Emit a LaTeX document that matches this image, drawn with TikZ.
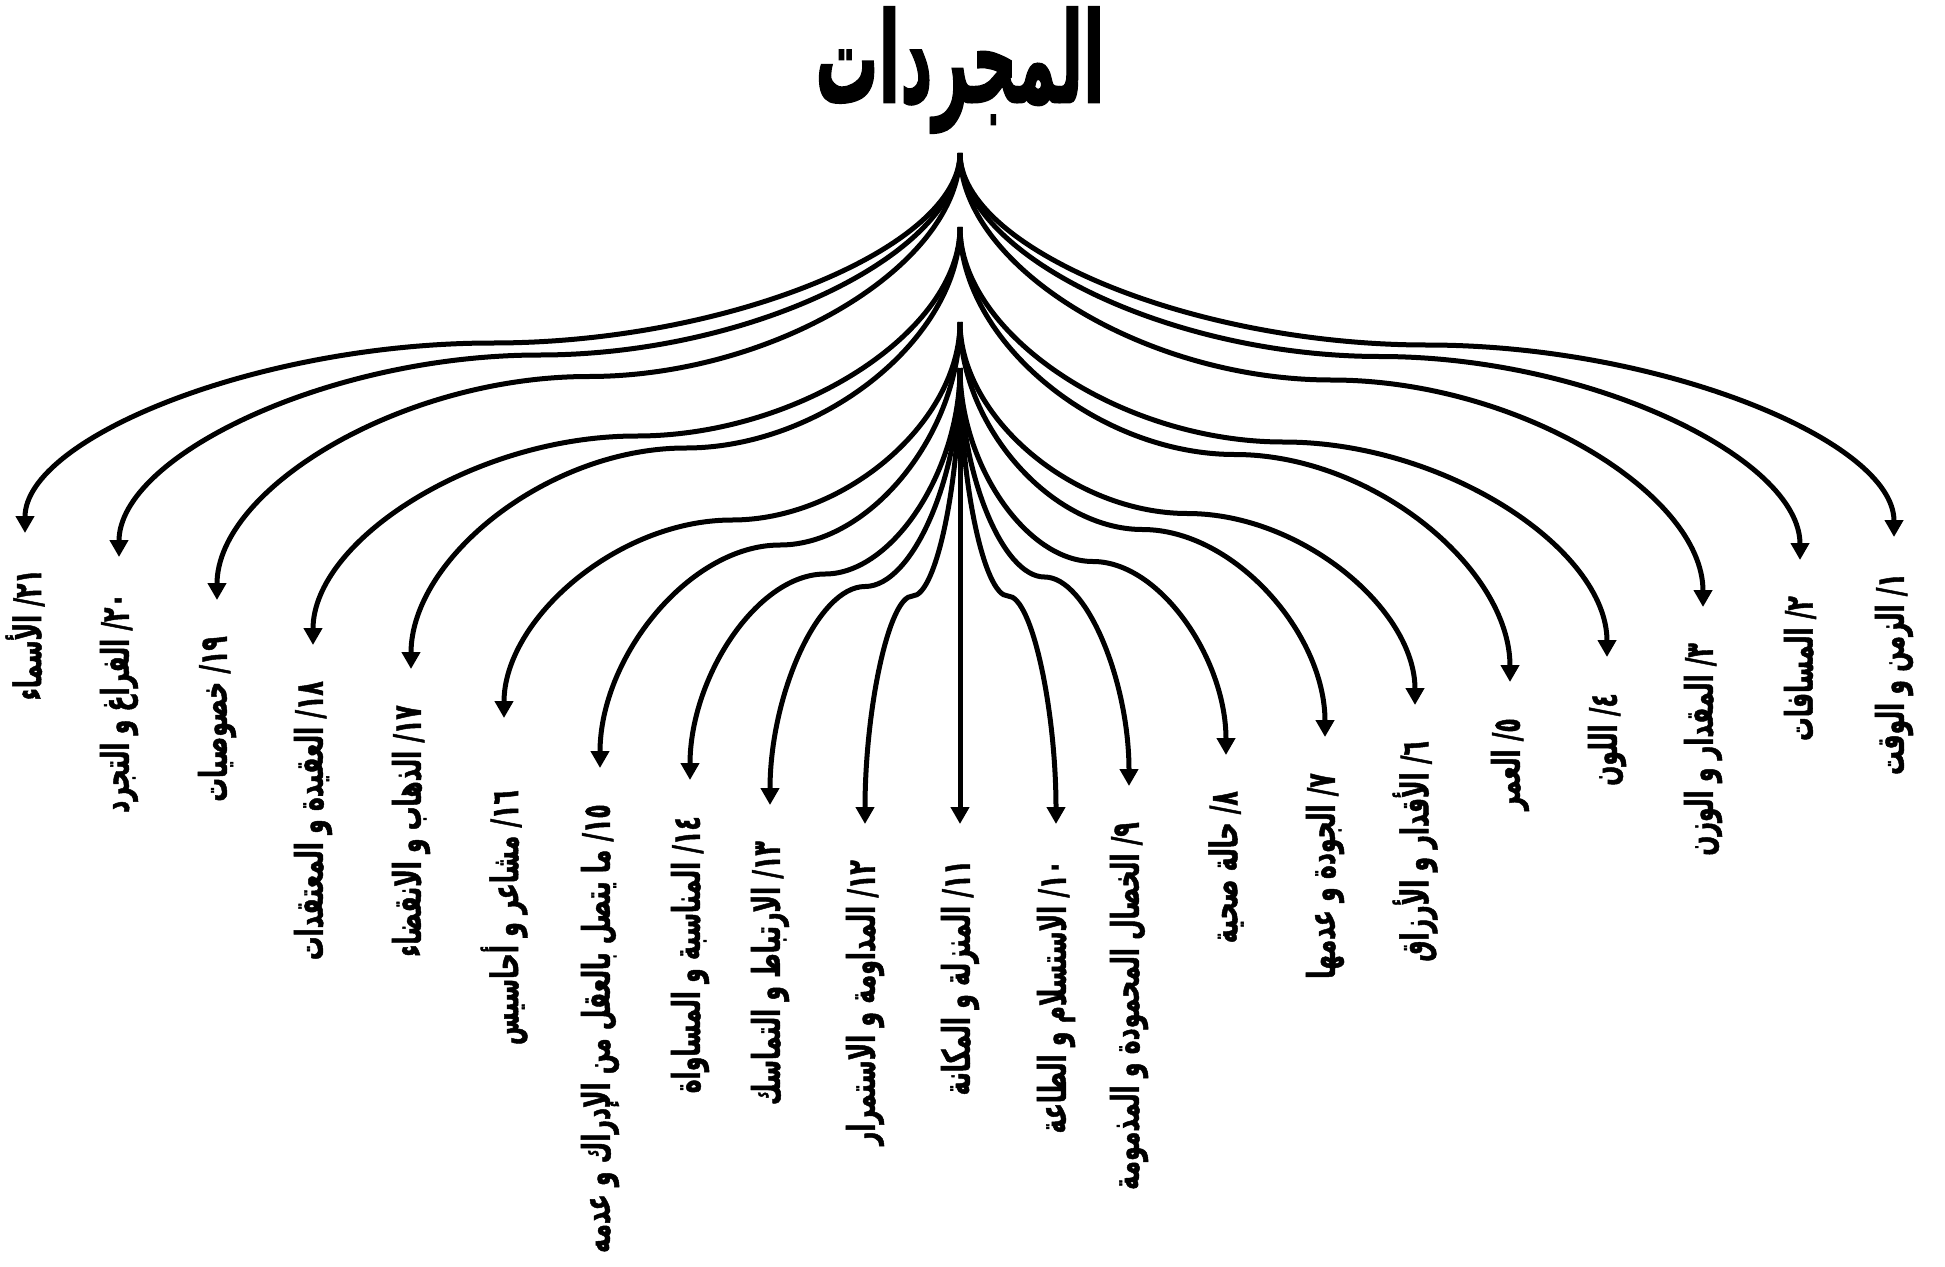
\documentclass[tikz,border=0pt]{standalone}
\usepackage{fontspec}
\usetikzlibrary{arrows.meta}
\TeXXeTstate=1
\newfontfamily\arabicfont[Script=Arabic,FakeBold=1.5]{DejaVu Sans}
\newfontfamily\lblfont[Script=Arabic,FakeStretch=0.62,FakeBold=1.2]{DejaVu Sans}
\begin{document}
\begin{tikzpicture}[x=1pt,y=1pt,
  conn/.style={line width=5pt,-{Triangle[length=17pt,width=18pt]}},
  lbl/.style={rotate=90,inner sep=0pt,anchor=east,font=\lblfont\bfseries\fontsize{38}{44}\selectfont},
  ttl/.style={inner sep=0pt,font=\arabicfont\bfseries\fontsize{90}{100}\selectfont}]
\useasboundingbox (0,0) rectangle (1945,-1266);
\node[ttl] (title) at (960,-70) {\scalebox{0.7}[1.4]{\beginR المجردات\endR}};
\coordinate (o153) at (960,-153);
\coordinate (o227) at (960,-227);
\coordinate (o322) at (960,-322);
\coordinate (o368) at (960,-368);
\foreach \i/\xt/\yt/\yo/\g/\d/\txt in {
  1/1894/537/153/36/١/{الزمن و الوقت},
  2/1800/560/153/36/٢/{المسافات},
  3/1703/607/153/36/٣/{المقدار و الوزن},
  4/1607/657/227/36/٤/{اللون},
  5/1510/682/227/36/٥/{العمر},
  6/1415/705/322/36/٦/{الأقدار و الأرزاق},
  7/1325/737/322/36/٧/{الجودة و عدمها},
  8/1226/755/368/36/٨/{حالة صحية},
  9/1129/786/368/36/٩/{الخصال المحمودة و المذمومة},
  10/1056/824/368/36/١٠/{الاستسلام و الطاعة},
  11/960/824/368/36/١١/{المنزلة و المكانة},
  12/865/824/368/36/١٢/{المداومة و الاستمرار},
  13/770/805/368/36/١٣/{الارتباط و التماسك},
  14/690/780/368/36/١٤/{المناسبة و المساواة},
  15/600/768/322/36/١٥/{ما يتصل بالعقل من الإدراك و عدمه},
  16/504/718/322/72/١٦/{مشاعر و أحاسيس},
  17/411/669/227/36/١٧/{الذهاب و الانقضاء},
  18/313/645/227/36/١٨/{العقيدة و المعتقدات},
  19/217/600/153/36/١٩/{خصوصيات},
  20/119/557/153/36/٢٠/{الفراغ و التجرد},
  21/25/533/153/36/٢١/{الأسماء}}{
  \pgfmathsetmacro\xm{(960+\xt)/2}
  \pgfmathsetmacro\ym{(\yo+\yt)/2}
  \pgfmathsetmacro\ya{(\yo+\ym)/2}
  \pgfmathsetmacro\yb{(\ym+\yt)/2}
  \pgfmathsetmacro\xa{960+(\xt-960)/4}
  \pgfmathsetmacro\xb{960+3*(\xt-960)/4}
  \coordinate (t\i) at (\xt,-\yt);
  \node[lbl] (l\i) at (\xt,-\yt-\g) {\beginR \txt\endR\ /\kern0pt\d};
  \draw[conn] (o\yo) .. controls (960,-\ya) and (\xa,-\ym) .. (\xm,-\ym)
     .. controls (\xb,-\ym) and (\xt,-\yb) .. (t\i);
}
\end{tikzpicture}
\end{document}
